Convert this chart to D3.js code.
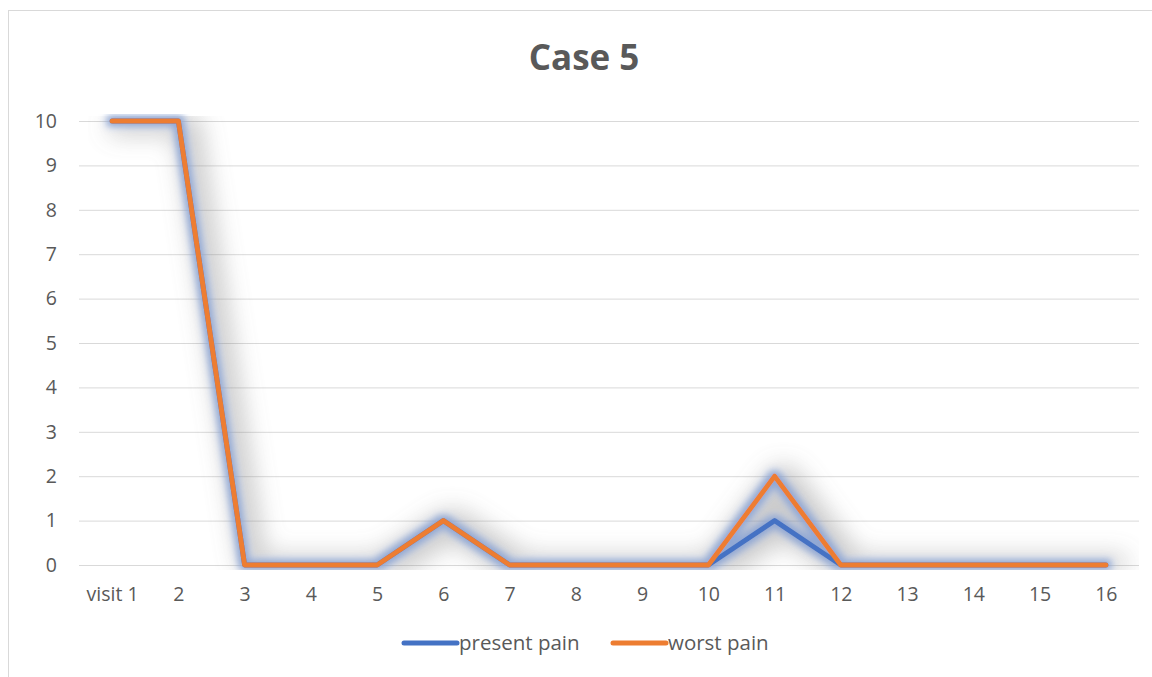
<!DOCTYPE html>
<html><head><meta charset="utf-8">
<script src="https://cdn.jsdelivr.net/npm/d3@7"></script>
<style>body{margin:0;background:#fff;} svg{display:block;font-family:"Open Sans",sans-serif;}</style>
</head><body><svg id="c" width="1152" height="677"></svg>
<script>
const categories = ["visit 1","2","3","4","5","6","7","8","9","10","11","12","13","14","15","16"];
const presentPain = [10,10,0,0,0,1,0,0,0,0,1,0,0,0,0,0];
const worstPain   = [10,10,0,0,0,1,0,0,0,0,2,0,0,0,0,0];
const yTicks = [0,1,2,3,4,5,6,7,8,9,10];
const seriesNames = ["present pain","worst pain"];
const seriesColors = ["#4472C4","#ED7D31"];

const svg = d3.select("#c");
const m = {left:79, right:1139, top:121, bottom:565};

const defs = svg.append("defs");
const f = defs.append("filter").attr("id","glow").attr("filterUnits","userSpaceOnUse")
  .attr("x",m.left).attr("y",m.top-7).attr("width",m.right-m.left).attr("height",m.bottom-m.top+12);
// gray soft shadow
f.append("feMorphology").attr("in","SourceAlpha").attr("operator","dilate").attr("radius",9).attr("result","d0");
f.append("feGaussianBlur").attr("in","d0").attr("stdDeviation",12).attr("result","b1");
f.append("feOffset").attr("in","b1").attr("dx",9).attr("dy",2).attr("result","o1");
f.append("feFlood").attr("flood-color","#7a7a7a").attr("result","gc");
f.append("feComposite").attr("in","gc").attr("in2","o1").attr("operator","in").attr("result","o2");
f.append("feComponentTransfer").attr("in","o2").attr("result","sh")
  .append("feFuncA").attr("type","linear").attr("slope",0.4);
// blue glow
f.append("feMorphology").attr("in","SourceAlpha").attr("operator","dilate").attr("radius",3).attr("result","d");
f.append("feGaussianBlur").attr("in","d").attr("stdDeviation",3.5).attr("result","b2");
f.append("feFlood").attr("flood-color","#8EA6D4").attr("flood-opacity",0.95).attr("result","fc");
f.append("feComposite").attr("in","fc").attr("in2","b2").attr("operator","in").attr("result","gl");
const mg = f.append("feMerge");
mg.append("feMergeNode").attr("in","sh");
mg.append("feMergeNode").attr("in","gl");
mg.append("feMergeNode").attr("in","SourceGraphic");

// frame
svg.append("rect").attr("x",8.5).attr("y",10.5).attr("width",1170).attr("height",700)
  .attr("fill","none").attr("stroke","#d9d9d9").attr("stroke-width",1);

const x = d3.scalePoint().domain(categories).range([m.left, m.right]).padding(0.5);
const y = d3.scaleLinear().domain([0,10]).range([m.bottom, m.top]);

// gridlines
svg.append("g").selectAll("line").data(yTicks).join("line")
  .attr("x1",m.left).attr("x2",m.right)
  .attr("y1",d=>y(d)+0.5).attr("y2",d=>y(d)+0.5)
  .attr("stroke","#d9d9d9").attr("stroke-width",1);

// y axis
const ya = svg.append("g").attr("transform",`translate(${m.left},0)`)
  .call(d3.axisLeft(y).tickValues(yTicks).tickSize(0).tickPadding(22).tickFormat(d3.format("d")));
ya.select(".domain").remove();
ya.selectAll("text").attr("font-size",19.5).attr("fill","#595959").attr("font-family","Open Sans, sans-serif");

// x axis
const xa = svg.append("g").attr("transform",`translate(0,${m.bottom})`)
  .call(d3.axisBottom(x).tickSize(0).tickPadding(22));
xa.select(".domain").remove();
xa.selectAll("text").attr("font-size",19.5).attr("fill","#595959").attr("font-family","Open Sans, sans-serif");

// lines
const line = d3.line().x((d,i)=>x(categories[i])).y(d=>y(d));
const series = [presentPain, worstPain];
const lg = svg.append("g").attr("filter","url(#glow)");
series.forEach((s,k)=>{
  lg.append("path").datum(s).attr("d",line)
    .attr("fill","none").attr("stroke",seriesColors[k]).attr("stroke-width",5)
    .attr("stroke-linejoin","round").attr("stroke-linecap","round");
});

// title
svg.append("text").attr("x",584).attr("y",70).attr("text-anchor","middle")
  .attr("font-size",35).attr("font-weight","bold").attr("fill","#595959").text("Case 5");

// legend
const legX = [402, 611];
seriesNames.forEach((n,k)=>{
  const g = svg.append("g");
  g.append("line").attr("x1",legX[k]+2).attr("x2",legX[k]+55).attr("y1",643).attr("y2",643)
    .attr("stroke",seriesColors[k]).attr("stroke-width",5).attr("stroke-linecap","round");
  g.append("text").attr("x",legX[k]+57).attr("y",650).attr("font-size",20.5).attr("fill","#595959").text(n);
});
</script></body></html>
